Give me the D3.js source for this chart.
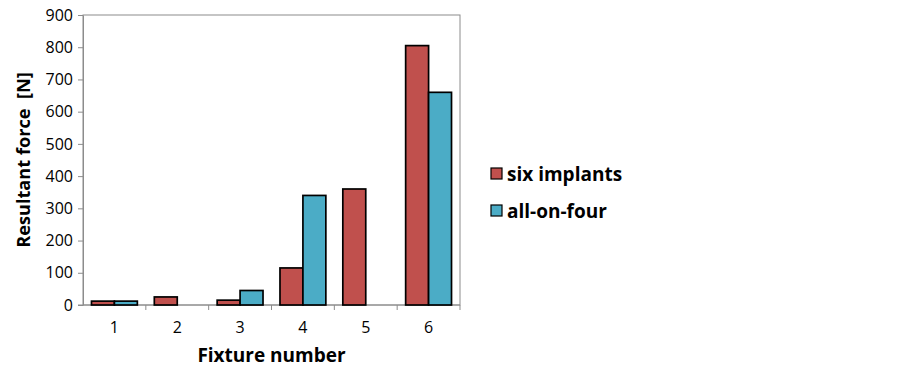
<!DOCTYPE html>
<html>
<head>
<meta charset="utf-8">
<script src="https://cdn.jsdelivr.net/npm/d3@7"></script>
<style>
  body { margin: 0; background: #fff; }
  svg { display: block; font-family: "Open Sans", "DejaVu Sans", sans-serif; }
</style>
</head>
<body>
<svg id="chart" width="903" height="367"></svg>
<script>
// Resultant force per fixture, two implant configurations.
const fixtures = ['1', '2', '3', '4', '5', '6'];
const seriesNames = ['six implants', 'all-on-four'];
const sixImplants = [12, 25, 15, 115, 360, 805];
const allOnFour = [12, 0, 45, 340, 0, 660];
const yTicks = [0, 100, 200, 300, 400, 500, 600, 700, 800, 900];

const COLORS = ['#C0504D', '#4BACC6'];
const AXIS_GREY = '#8c8c8c';

const svg = d3.select('#chart');
const margin = { left: 83, top: 15, right: 460, bottom: 305 };

const x = d3.scaleBand().domain(fixtures).range([margin.left, margin.right]).paddingInner(0).paddingOuter(0);
const xSub = d3.scaleBand().domain(seriesNames).range([0, x.bandwidth()]).paddingInner(0).paddingOuter(0.37);
const y = d3.scaleLinear().domain([0, 900]).range([margin.bottom, margin.top]);

// plot frame
svg.append('rect')
    .attr('x', margin.left).attr('y', margin.top)
    .attr('width', margin.right - margin.left).attr('height', margin.bottom - margin.top)
    .attr('fill', 'none').attr('stroke', AXIS_GREY).attr('stroke-width', 1);

// y axis
const yAxis = svg.append('g')
    .attr('transform', `translate(${margin.left},0)`)
    .call(d3.axisLeft(y).tickValues(yTicks).tickSize(5).tickPadding(5).tickSizeOuter(0));
yAxis.select('.domain').attr('stroke', AXIS_GREY);
yAxis.selectAll('.tick line').attr('stroke', AXIS_GREY);
yAxis.selectAll('.tick text').attr('font-size', 16).attr('fill', '#000')
    .attr('font-family', '"Open Sans", sans-serif');

// x axis: ticks at category boundaries
const xAxis = svg.append('g').attr('transform', `translate(0,${margin.bottom})`);
xAxis.append('line')
    .attr('x1', margin.left - 5).attr('x2', margin.right)
    .attr('stroke', AXIS_GREY);
xAxis.selectAll('line.tick')
    .data(fixtures.slice(1).concat(['end']))
    .join('line')
    .attr('class', 'tick')
    .attr('x1', (d) => d === 'end' ? margin.right : x(d))
    .attr('x2', (d) => d === 'end' ? margin.right : x(d))
    .attr('y1', 0).attr('y2', 5)
    .attr('stroke', AXIS_GREY);
xAxis.selectAll('text')
    .data(fixtures)
    .join('text')
    .attr('x', (d) => x(d) + x.bandwidth() / 2)
    .attr('y', 28)
    .attr('text-anchor', 'middle')
    .attr('font-size', 16)
    .text((d) => d);

// bars
const rows = fixtures.map((f, i) => ({ f, vals: [sixImplants[i], allOnFour[i]] }));
svg.append('g').selectAll('g')
    .data(rows)
    .join('g')
    .attr('transform', (d) => `translate(${x(d.f)},0)`)
    .selectAll('rect')
    .data((d) => d.vals.map((v, j) => ({ v, s: seriesNames[j], j })).filter((e) => e.v > 0))
    .join('rect')
    .attr('x', (e) => xSub(e.s))
    .attr('width', xSub.bandwidth())
    .attr('y', (e) => y(e.v))
    .attr('height', (e) => y(0) - y(e.v))
    .attr('fill', (e) => COLORS[e.j])
    .attr('stroke', '#000')
    .attr('stroke-width', 1.7);

// axis titles
svg.append('text')
    .attr('transform', `translate(30,${(margin.top + margin.bottom) / 2}) rotate(-90)`)
    .attr('text-anchor', 'middle')
    .attr('font-size', 18.2).attr('font-weight', 'bold')
    .style('white-space', 'pre')
    .text('Resultant force  [N]');
svg.append('text')
    .attr('x', (margin.left + margin.right) / 2)
    .attr('y', 362)
    .attr('text-anchor', 'middle')
    .attr('font-size', 19).attr('font-weight', 'bold')
    .text('Fixture number');

// legend
const legend = svg.append('g').attr('transform', 'translate(491,174)');
const item = legend.selectAll('g')
    .data(seriesNames)
    .join('g')
    .attr('transform', (d, i) => `translate(0,${i * 37})`);
item.append('rect')
    .attr('x', 0).attr('y', -6).attr('width', 11).attr('height', 11)
    .attr('fill', (d, i) => COLORS[i])
    .attr('stroke', '#000').attr('stroke-width', 1.2);
item.append('text')
    .attr('x', 16).attr('y', 7)
    .attr('font-size', 19).attr('font-weight', 'bold')
    .text((d) => d);
</script>
</body>
</html>
